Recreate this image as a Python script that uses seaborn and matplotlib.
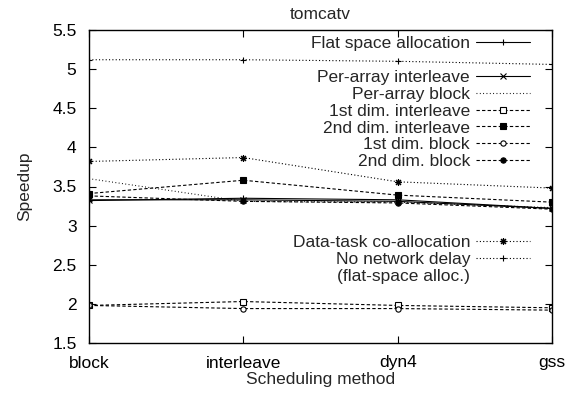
import numpy as np
import pandas as pd
import matplotlib
matplotlib.use("Agg")
import matplotlib.pyplot as plt
import seaborn as sns

# ---- data ----
categories = ["block", "interleave", "dyn4", "gss"]
flat_space = [3.32, 3.35, 3.33, 3.22]
per_array_interleave = [3.33, 3.33, 3.31, 3.22]
per_array_block = [3.60, 3.31, 3.30, 3.23]
dim1_interleave = [1.98, 2.03, 1.98, 1.95]
dim2_interleave = [3.41, 3.58, 3.39, 3.30]
dim1_block = [1.98, 1.94, 1.94, 1.92]
dim2_block = [3.38, 3.31, 3.29, 3.21]
data_task_coalloc = [3.82, 3.87, 3.56, 3.48]
no_network_delay = [5.12, 5.12, 5.10, 5.06]
y_ticks = [1.5, 2, 2.5, 3, 3.5, 4, 4.5, 5, 5.5]

sns.set_theme(style="ticks")
plt.rcParams["font.family"] = ["Liberation Sans", "DejaVu Sans"]
FS = 12.5

fig = plt.figure(figsize=(5.75, 3.94), dpi=100)
ax = fig.add_axes([89 / 575, 1 - 343 / 394, 463 / 575, 313 / 394])

xpos = np.arange(len(categories))

DASH = (0, (3, 2))
DOT = (0, (1, 2))
DOT_FINE = (0, (0.8, 2.2))
star = (8, 2, 0)

series = [
    ("Flat space allocation", flat_space, "-", "+", "black"),
    ("Per-array interleave", per_array_interleave, "-", "x", "black"),
    ("Per-array block", per_array_block, DOT_FINE, None, "black"),
    ("1st dim. interleave", dim1_interleave, DASH, "s", "white"),
    ("2nd dim. interleave", dim2_interleave, DASH, "s", "black"),
    ("1st dim. block", dim1_block, DASH, "o", "white"),
    ("2nd dim. block", dim2_block, DASH, "o", "black"),
    ("Data-task co-allocation", data_task_coalloc, DOT, star, "black"),
    ("No network delay", no_network_delay, DOT, "+", "black"),
]

handles = {}
for name, vals, ls, mk, mfc in series:
    df = pd.DataFrame({"x": xpos, "y": vals})
    msize = 5
    if mk in ("s",):
        msize = 4.5
    if mk == "o":
        msize = 3.8
    kw = dict(color="black", linewidth=0.8, linestyle=ls)
    if mk is not None:
        kw.update(marker=mk, markersize=msize, markerfacecolor=mfc,
                  markeredgecolor="black", markeredgewidth=0.8)
    sns.lineplot(data=df, x="x", y="y", ax=ax, errorbar=None, label=name, **kw)
    handles[name] = ax.lines[-1]

if ax.get_legend():
    ax.get_legend().remove()

ax.set_xlim(0, len(categories) - 1)
ax.set_ylim(1.5, 5.5)
ax.set_xticks(xpos)
ax.set_xticklabels(categories)
ax.set_yticks(y_ticks)
ax.set_yticklabels([f"{t:g}" for t in y_ticks])
ax.tick_params(direction="in", length=5, width=0.8, top=True, right=True,
               labelsize=FS, colors="black")
ax.tick_params(axis="y", pad=9)
ax.tick_params(axis="x", pad=9)
for s in ax.spines.values():
    s.set_visible(True)
    s.set_color("black")
    s.set_linewidth(1.0)

ax.set_xlabel("Scheduling method", fontsize=FS, labelpad=1)
ax.set_ylabel("Speedup", fontsize=FS, labelpad=14)
ax.set_title("tomcatv", fontsize=FS, pad=8)

leg_kw = dict(markerfirst=False, frameon=False, fontsize=FS, handlelength=3.1,
              handletextpad=0.35, labelspacing=0.10, borderpad=0,
              borderaxespad=0, loc="center right")

l1 = ax.legend([handles["Flat space allocation"]], ["Flat space allocation"],
               bbox_to_anchor=(0.9525, 0.958), **leg_kw)
ax.add_artist(l1)
names2 = ["Per-array interleave", "Per-array block", "1st dim. interleave",
          "2nd dim. interleave", "1st dim. block", "2nd dim. block"]
l2 = ax.legend([handles[n] for n in names2], names2,
               bbox_to_anchor=(0.9525, 0.714), **leg_kw)
ax.add_artist(l2)
blank = plt.Line2D([], [], color="none")
l3 = ax.legend([handles["Data-task co-allocation"], handles["No network delay"], blank],
               ["Data-task co-allocation", "No network delay", "(flat-space alloc.)"],
               bbox_to_anchor=(0.9525, 0.267), **leg_kw)

fig.savefig("out.png", dpi=100)
